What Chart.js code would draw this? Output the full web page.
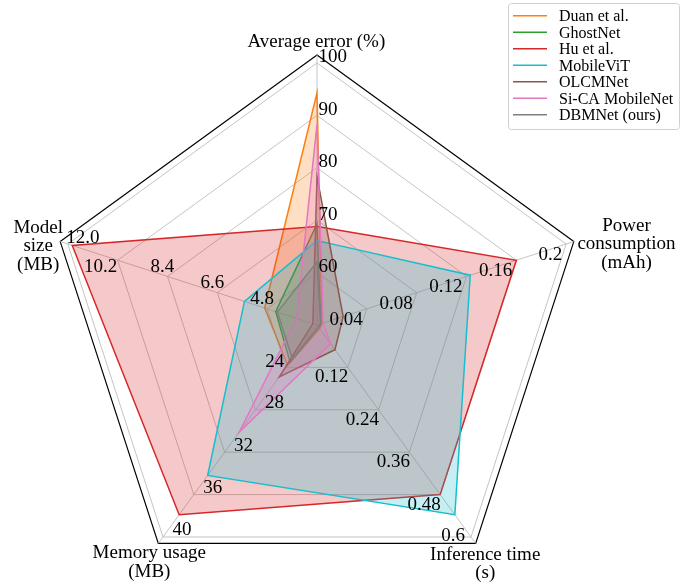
<!DOCTYPE html>
<html>
<head>
<meta charset="utf-8">
<script src="https://cdn.jsdelivr.net/npm/chart.js@4.4.0/dist/chart.umd.min.js"></script>
<style>
  html, body { margin: 0; padding: 0; overflow: hidden; background: #fff; }
  #wrap { width: 693px; height: 650px; }
</style>
</head>
<body>
<div id="wrap"><canvas id="radar" width="693" height="650"></canvas></div>
<script>
// axes, in drawing order clockwise from the top
const axisNames = ['Average error (%)', 'Power consumption (mAh)', 'Inference time (s)', 'Memory usage (MB)', 'Model size (MB)'];
const axisTitles = [
    ['Average error (%)'],
    ['Power', 'consumption', '(mAh)'],
    ['Inference time', '(s)'],
    ['Memory usage', '(MB)'],
    ['Model', 'size', '(MB)']
];
const axisMin = [50, 0, 0, 20, 3.0];
const axisMax = [100, 0.2, 0.6, 40, 12.0];
const tickLabels = [
    ['60', '70', '80', '90', '100'],
    ['0.04', '0.08', '0.12', '0.16', '0.2'],
    ['0.12', '0.24', '0.36', '0.48', '0.6'],
    ['24', '28', '32', '36', '40'],
    ['4.8', '6.6', '8.4', '10.2', '12.0']
];

// one value per axis, same order as axisNames
const methodNames = ['Duan et al.', 'GhostNet', 'Hu et al.', 'MobileViT', 'OLCMNet', 'Si-CA MobileNet', 'DBMNet (ours)'];
const duan = [94.3, 0.004, 0.010, 23.8, 4.89];
const ghostNet = [69.3, 0.003, 0.006, 23.5, 4.49];
const hu = [68.8, 0.160, 0.480, 37.9, 11.84];
const mobileViT = [66.1, 0.123, 0.537, 34.2, 5.62];
const olcmNet = [78.3, 0.021, 0.070, 24.9, 3.15];
const siCA = [88.3, 0.005, 0.053, 30.1, 3.74];
const dbmNet = [62.0, 0.003, 0.006, 23.2, 4.43];
const methodValues = [duan, ghostNet, hu, mobileViT, olcmNet, siCA, dbmNet];

const colors = ['#ff7f0e', '#2ca02c', '#d62728', '#17becf', '#8c564b', '#e377c2', '#7f7f7f'];

// grid rings on the shared 0..1 radius, plus the black outer frame
const gridSteps = [0, 0.2, 0.4, 0.6, 0.8, 1.0];
const FRAME = 1.0305;

const FONT = '"Liberation Serif", "Times New Roman", serif';

function hexToRgba(hex, a) {
    const n = parseInt(hex.slice(1), 16);
    return `rgba(${(n >> 16) & 255}, ${(n >> 8) & 255}, ${n & 255}, ${a})`;
}

// each axis has its own range, so scale every value onto 0..1
function normalize(values) {
    return values.map((v, i) => (v - axisMin[i]) / (axisMax[i] - axisMin[i]));
}

// where each tick label sits relative to its ring vertex
const tickPlace = [
    { align: 'left', dx: 1.5, dy: -0.5 },
    { align: 'right', dx: -4, dy: 16 },
    { align: 'right', dx: 0.5, dy: 15 },
    { align: 'left', dx: 9.5, dy: -1.5 },
    { align: 'center', dx: -5, dy: -4.5 }
];
const tickNudge = {
    '2:4': { align: 'right', dx: -6, dy: 4 },
    '3:0': { align: 'right', dx: -2, dy: -0.5 },
    '4:3': { align: 'center', dx: -17, dy: 12 },
    '4:4': { align: 'center', dx: 15, dy: -1 }
};
// axis title block: centre x and first baseline relative to the frame vertex
const titlePlace = [
    { dx: -0.7, dy: -8 },
    { dx: 52.7, dy: -10.6 },
    { dx: 9.5, dy: 16.5 },
    { dx: -9, dy: 15 },
    { dx: -22, dy: -8.6 }
];

const overlay = {
    id: 'overlay',
    afterDatasetsDraw(chart) {
        const s = chart.scales.r;
        const ctx = chart.ctx;
        ctx.save();
        ctx.fillStyle = '#000';
        ctx.textBaseline = 'alphabetic';
        ctx.font = '19px ' + FONT;

        tickLabels.forEach((labels, i) => {
            labels.forEach((txt, k) => {
                const p = s.getPointPositionForValue(i, gridSteps[k + 1]);
                const o = tickNudge[i + ':' + k] || tickPlace[i];
                ctx.textAlign = o.align;
                ctx.fillText(txt, p.x + o.dx, p.y + o.dy);
            });
        });

        ctx.textAlign = 'center';
        axisTitles.forEach((lines, i) => {
            const p = s.getPointPosition(i, s.getDistanceFromCenterForValue(FRAME));
            const o = titlePlace[i];
            lines.forEach((line, j) => {
                ctx.fillText(line, p.x + o.dx, p.y + o.dy + j * 18.5);
            });
        });
        ctx.restore();
    },
    afterDraw(chart) {
        // legend box in the top right corner
        const ctx = chart.ctx;
        ctx.save();
        ctx.beginPath();
        ctx.roundRect(508.5, 3.5, 171, 126, 3);
        ctx.fillStyle = 'rgba(255,255,255,0.8)';
        ctx.fill();
        ctx.strokeStyle = '#d0d0d0';
        ctx.lineWidth = 1;
        ctx.stroke();

        ctx.font = '16px ' + FONT;
        ctx.textAlign = 'left';
        ctx.textBaseline = 'alphabetic';
        chart.data.datasets.forEach((ds, i) => {
            const y = 15.7 + i * 16.5;
            ctx.beginPath();
            ctx.moveTo(513, y);
            ctx.lineTo(547, y);
            ctx.strokeStyle = ds.borderColor;
            ctx.lineWidth = 1.5;
            ctx.stroke();
            ctx.fillStyle = '#000';
            ctx.fillText(ds.label, 559, y + 5.3);
        });
        ctx.restore();
    }
};

const datasets = methodNames.map((name, i) => ({
    label: name,
    data: normalize(methodValues[i]),
    borderColor: colors[i],
    backgroundColor: hexToRgba(colors[i], 0.25),
    borderWidth: 1.5,
    fill: 'origin',
    pointRadius: 0,
    pointHoverRadius: 0,
    order: methodNames.length - i   // later methods on top, like the original
}));

new Chart(document.getElementById('radar'), {
    type: 'radar',
    data: { labels: axisNames, datasets: datasets },
    options: {
        responsive: false,
        animation: false,
        layout: { padding: { left: 47, top: 55, right: 106, bottom: 55 } },
        elements: { line: { tension: 0 } },
        plugins: {
            legend: { display: false },
            tooltip: { enabled: false }
        },
        scales: {
            r: {
                min: 0,
                max: FRAME,
                afterBuildTicks: (scale) => {
                    scale.ticks = gridSteps.concat([FRAME]).map(v => ({ value: v }));
                },
                ticks: { display: false },
                pointLabels: { display: false },
                grid: {
                    color: (c) => (c.tick && c.tick.value > 1.001 ? '#000000' : '#bdbdbd'),
                    lineWidth: (c) => (c.tick && c.tick.value > 1.001 ? 1.2 : 0.9)
                },
                angleLines: { color: '#bdbdbd', lineWidth: 0.9 }
            }
        }
    },
    plugins: [overlay]
});
</script>
</body>
</html>
